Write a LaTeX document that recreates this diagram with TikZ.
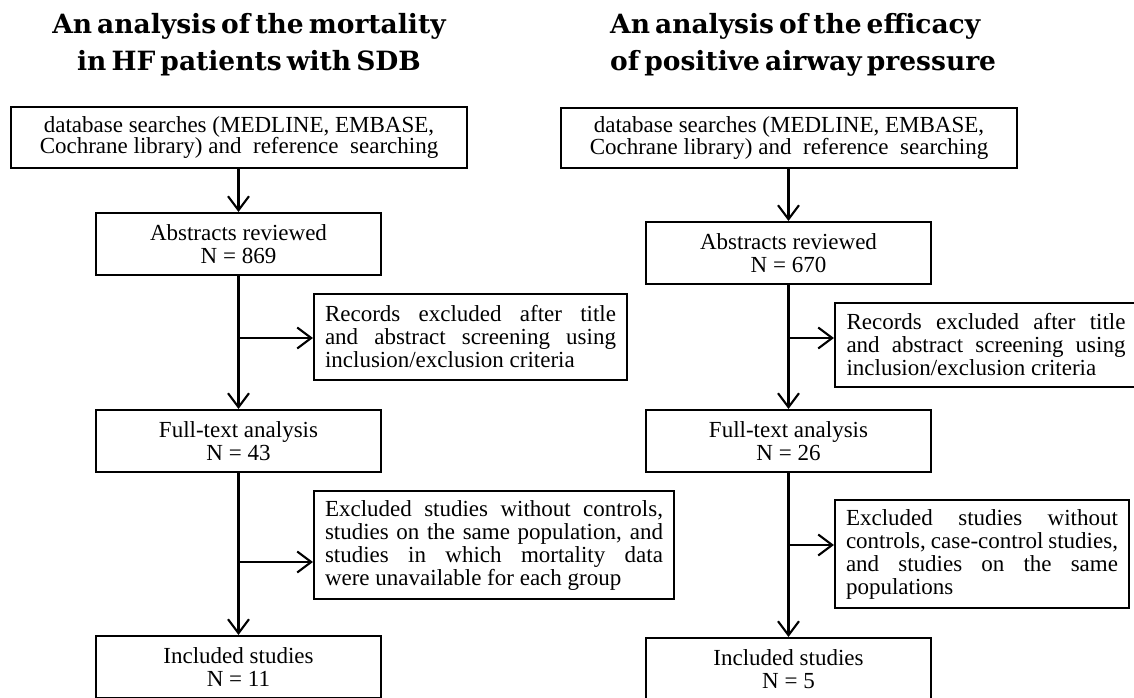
\documentclass[tikz,border=0pt]{standalone}
\usepackage{fontspec}
\setmainfont{Liberation Serif}
\newfontfamily\titlefont{DejaVu Serif}[WordSpace=0.55]
\usetikzlibrary{arrows.meta}
\begin{document}
\begin{tikzpicture}[x=1pt,y=-1pt,
  box/.style={draw, line width=2.1pt, rectangle, inner sep=0pt, align=center,
    minimum width=285pt, minimum height=62pt, font=\fontsize{23}{23}\selectfont},
  topbox/.style={box, minimum width=456pt, minimum height=61pt, font=\fontsize{23}{21.5}\selectfont},
  exbox/.style={draw, line width=2.1pt, rectangle, inner sep=0pt, align=justify,
    font=\fontsize{23}{23}\selectfont,
    execute at begin node={\hyphenpenalty=10000\exhyphenpenalty=10000\relax}},
  ttl/.style={inner sep=0pt, font=\titlefont\bfseries\fontsize{26.5}{37}\selectfont},
  arr/.style={line width=2.1pt, -{Straight Barb[length=14pt,width=21pt,line width=2.1pt]}}]
\useasboundingbox (0,0) rectangle (1134,697);

% titles
\node[ttl, align=center, anchor=north] (tL) at (249,13)
  {An analysis of the mortality\\in HF patients with SDB};
\node[ttl, align=left, anchor=north west] (tR) at (610,13)
  {An analysis of the efficacy\\of positive airway pressure};

% left column
\node[topbox] (L1) at (239,137.5)
  {database searches (MEDLINE, EMBASE,\\Cochrane library) and~ reference~ searching};
\node[box] (L2) at (238.5,244) {Abstracts reviewed\\N = 869};
\node[box] (L3) at (238.5,441) {Full-text analysis\\N = 43};
\node[box] (L4) at (238.5,667) {Included studies\\N = 11};
\node[exbox, minimum width=313pt, minimum height=86pt, text width=291pt] (LE1) at (470.5,337)
  {Records excluded after title\linebreak and abstract screening using\linebreak inclusion/exclusion criteria};
\node[exbox, minimum width=360pt, minimum height=108pt, text width=338pt] (LE2) at (494,545)
  {Excluded studies without controls,\linebreak studies on the same population, and\linebreak studies in which mortality data\linebreak were unavailable for each group};

% right column
\node[topbox, minimum height=60pt] (R1) at (789,138)
  {database searches (MEDLINE, EMBASE,\\Cochrane library) and~ reference~ searching};
\node[box] (R2) at (788.5,253) {Abstracts reviewed\\N = 670};
\node[box] (R3) at (788.5,441) {Full-text analysis\\N = 26};
\node[box] (R4) at (788.5,669) {Included studies\\N = 5};
\node[exbox, minimum width=302pt, minimum height=84pt, text width=279pt] (RE1) at (986,345)
  {Records excluded after title\linebreak and abstract screening using\linebreak inclusion/exclusion criteria};
\node[exbox, minimum width=294pt, minimum height=108pt, text width=272pt] (RE2) at (982,554)
  {Excluded studies without\linebreak controls, case-control studies,\linebreak and studies on the same\linebreak populations};

% branch points
\coordinate (bL1) at (238.5,338);
\coordinate (bL2) at (238.5,562);
\coordinate (bR1) at (788.5,338);
\coordinate (bR2) at (788.5,545);

% connectors left
\draw[arr] (L2.north |- L1.south) -- (L2.north);
\draw[arr] (L2.south) -- (L3.north);
\draw[arr] (L3.south) -- (L4.north);
\draw[arr] (bL1) -- (bL1 -| LE1.west);
\draw[arr] (bL2) -- (bL2 -| LE2.west);

% connectors right
\draw[arr] (R2.north |- R1.south) -- (R2.north);
\draw[arr] (R2.south) -- (R3.north);
\draw[arr] (R3.south) -- (R4.north);
\draw[arr] (bR1) -- (bR1 -| RE1.west);
\draw[arr] (bR2) -- (bR2 -| RE2.west);
\end{tikzpicture}
\end{document}
